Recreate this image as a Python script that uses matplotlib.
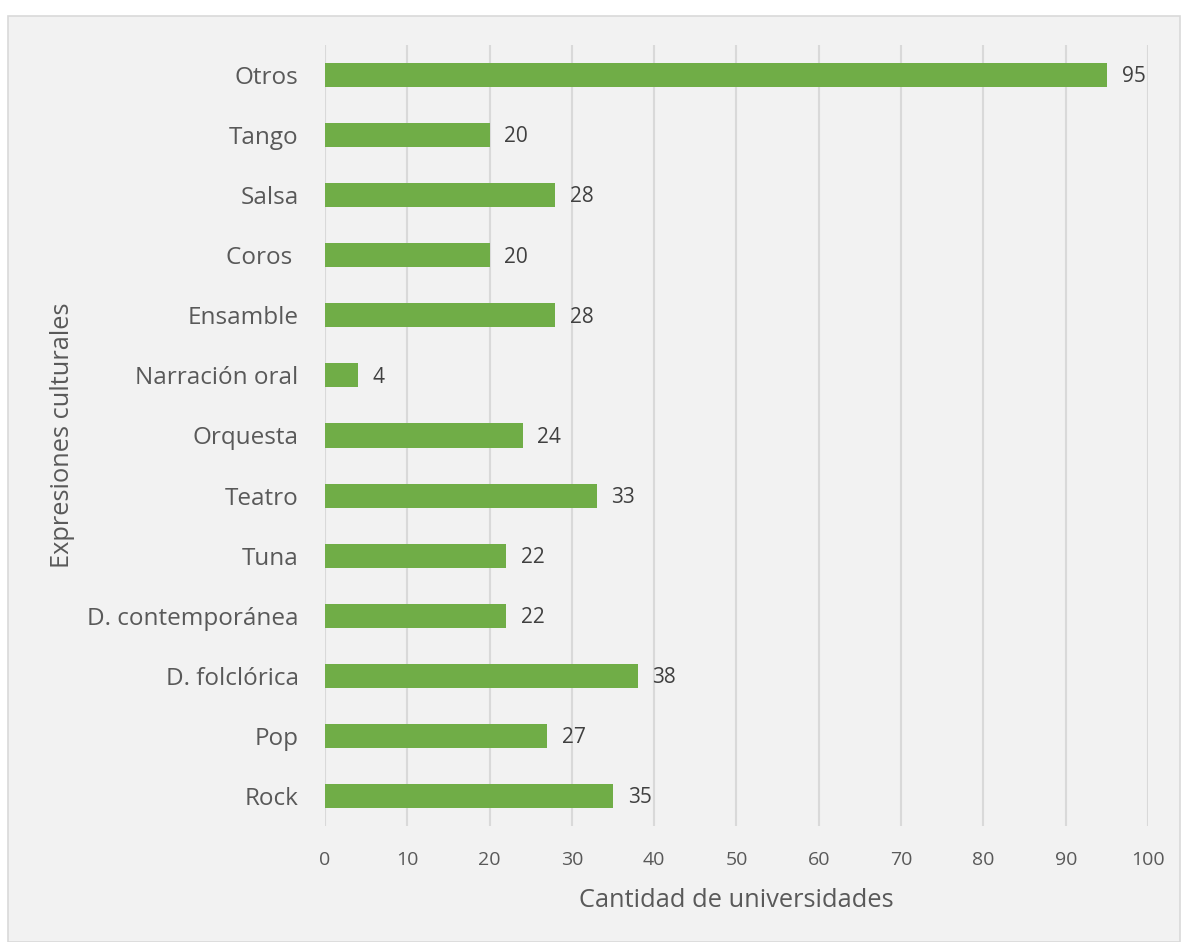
import matplotlib.pyplot as plt
from matplotlib.patches import Rectangle

plt.rcParams['font.family'] = ['Open Sans', 'DejaVu Sans']

# categories from bottom to top
categorias = ["Rock", "Pop", "D. folclórica", "D. contemporánea", "Tuna", "Teatro",
              "Orquesta", "Narración oral", "Ensamble", "Coros ", "Salsa", "Tango", "Otros"]
universidades = [35, 27, 38, 22, 22, 33, 24, 4, 28, 20, 28, 20, 95]
x_ticks = list(range(0, 101, 10))

text_gray = "#595959"
bar_green = "#70AD47"
grid_gray = "#D9D9D9"

fig = plt.figure(figsize=(11.82, 9.42), dpi=100)
fig.patch.set_facecolor("white")

# light gray chart panel with thin border
panel = Rectangle((8 / 1182, 0.0), 1 - 8 / 1182 - 2 / 1182, 1 - 16 / 942,
                  transform=fig.transFigure, facecolor="#F2F2F2",
                  edgecolor=grid_gray, linewidth=1.2, zorder=-5)
fig.patches.append(panel)

ax = fig.add_axes([325 / 1182, 1 - 826 / 942, (1148 - 325) / 1182, (826 - 45) / 942])
ax.set_facecolor("none")
ax.set_zorder(2)

ypos = range(len(categorias))
ax.barh(ypos, universidades, height=0.4, color=bar_green, zorder=3)

for y, v in zip(ypos, universidades):
    ax.text(v + 1.8, y - 0.03, str(v), va="center", ha="left", fontsize=15,
            color="#404040", zorder=4)

ax.set_xlim(0, 100)
ax.set_ylim(-0.5, len(categorias) - 0.5)
ax.set_xticks(x_ticks)
ax.set_yticks(list(ypos))
ax.set_yticklabels(categorias, fontsize=17.5, color=text_gray)
ax.tick_params(axis="x", labelsize=14, labelcolor=text_gray, length=0, pad=18)
ax.tick_params(axis="y", length=0, pad=19)

ax.grid(axis="x", color=grid_gray, linewidth=1.5, zorder=0)
ax.set_axisbelow(True)
for s in ax.spines.values():
    s.set_visible(False)

ax.set_xlabel("Cantidad de universidades", fontsize=18.3, color=text_gray, labelpad=14)
ax.set_ylabel("Expresiones culturales", fontsize=18.3, color=text_gray)
ax.yaxis.set_label_coords(-0.304, 0.5, transform=ax.transAxes)

fig.savefig("out.png", dpi=100)
